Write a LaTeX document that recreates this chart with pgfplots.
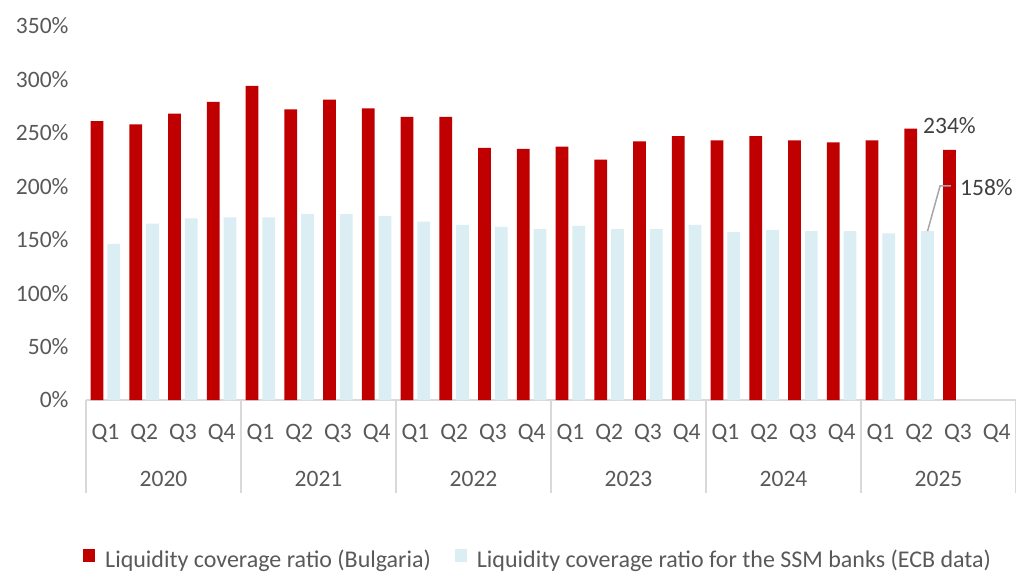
\documentclass[border=0pt]{standalone}
\usepackage{fontspec}
\setmainfont{Carlito}
\usepackage{pgfplots}
\usepackage{pgfplotstable}
\pgfplotsset{compat=1.18}
\definecolor{bgred}{HTML}{C00000}
\definecolor{ssmblue}{HTML}{DAEEF3}
\definecolor{axgray}{HTML}{D9D9D9}
\definecolor{txtgray}{HTML}{595959}
\definecolor{lblgray}{HTML}{404040}
\definecolor{leadgray}{HTML}{A6A6A6}
\newcommand{\cf}{\fontsize{23.5}{28}\selectfont}
\newcommand{\lf}{\fontsize{24}{28}\selectfont}

\pgfplotstableread{
x bg ssm
0 261 146
1 258 165
2 268 170
3 279 171
4 294 171
5 272 174
6 281 174
7 273 172
8 265 167
9 265 164
10 236 162
11 235 160
12 237 163
13 225 160
14 242 160
15 247 164
16 243 157
17 247 159
18 243 158
19 241 158
20 243 156
21 254 158
22 234 nan
}\datatable

\begin{document}
\begin{tikzpicture}
\begin{axis}[
  name=ax,
  scale only axis, width=930pt, height=374pt,
  xmin=-0.5, xmax=23.5, ymin=0, ymax=350,
  ybar, bar width=0.33,
  axis lines*=left,
  y axis line style={draw=none},
  x axis line style={axgray, line width=1.5pt},
  ytick={0,50,...,350},
  yticklabel={\pgfmathprintnumber[assume math mode=true]{\tick}\%},
  yticklabel style={font=\cf, text=txtgray, xshift=-14pt},
  ytick style={draw=none},
  xtick={0,...,23},
  xticklabels={Q1,Q2,Q3,Q4,Q1,Q2,Q3,Q4,Q1,Q2,Q3,Q4,Q1,Q2,Q3,Q4,Q1,Q2,Q3,Q4,Q1,Q2,Q3,Q4},
  xticklabel style={font=\cf, text=txtgray, anchor=base, yshift=-39pt},
  major tick length=0pt,
  xtick style={draw=none},
  extra x ticks={-0.5,3.5,7.5,11.5,15.5,19.5,23.5},
  extra x tick labels={},
  extra x tick style={xtick style={draw=axgray, line width=1.5pt}, major tick length=93pt, tick align=outside},
  clip=false,
  legend columns=2,
  legend style={at={(axis description cs:0,0)}, anchor=north west, xshift=-3pt, yshift=-148pt,
    draw=none, fill=none, font=\lf, text=txtgray, inner sep=0pt,
    /tikz/every odd column/.append style={column sep=8pt},
    /tikz/every even column/.append style={column sep=22pt}},
  legend image code/.code={\fill[#1] (0pt,-2pt) rectangle (12pt,11pt);},
]
\addplot[fill=bgred, draw=none, bar shift=-0.217] table[x=x, y=bg] {\datatable};
\addlegendentry{Liquidity coverage ratio (Bulgaria)}
\addplot[fill=ssmblue, draw=none, bar shift=0.217] table[x=x, y=ssm] {\datatable};
\addlegendentry{Liquidity coverage ratio for the SSM banks (ECB data)}

\node[font=\cf, text=txtgray, anchor=base] at (axis cs:1.5,0) [yshift=-86pt] {2020};
\node[font=\cf, text=txtgray, anchor=base] at (axis cs:5.5,0) [yshift=-86pt] {2021};
\node[font=\cf, text=txtgray, anchor=base] at (axis cs:9.5,0) [yshift=-86pt] {2022};
\node[font=\cf, text=txtgray, anchor=base] at (axis cs:13.5,0) [yshift=-86pt] {2023};
\node[font=\cf, text=txtgray, anchor=base] at (axis cs:17.5,0) [yshift=-86pt] {2024};
\node[font=\cf, text=txtgray, anchor=base] at (axis cs:21.5,0) [yshift=-86pt] {2025};

\node[font=\cf, text=lblgray, anchor=base] at (axis cs:21.783,234) [yshift=16.5pt] {234\%};
\draw[leadgray, line width=1.5pt] (axis cs:21.217,158) -- (axis cs:21.54,200.3) -- (axis cs:21.82,200.3);
\node[font=\cf, text=lblgray, anchor=base west, inner sep=0pt] at (axis cs:22.055,191.4) {158\%};
\end{axis}
\pgfresetboundingbox
\useasboundingbox ([xshift=-86pt,yshift=-175pt]ax.south west) rectangle ([yshift=26pt]ax.north east);
\end{tikzpicture}
\end{document}
